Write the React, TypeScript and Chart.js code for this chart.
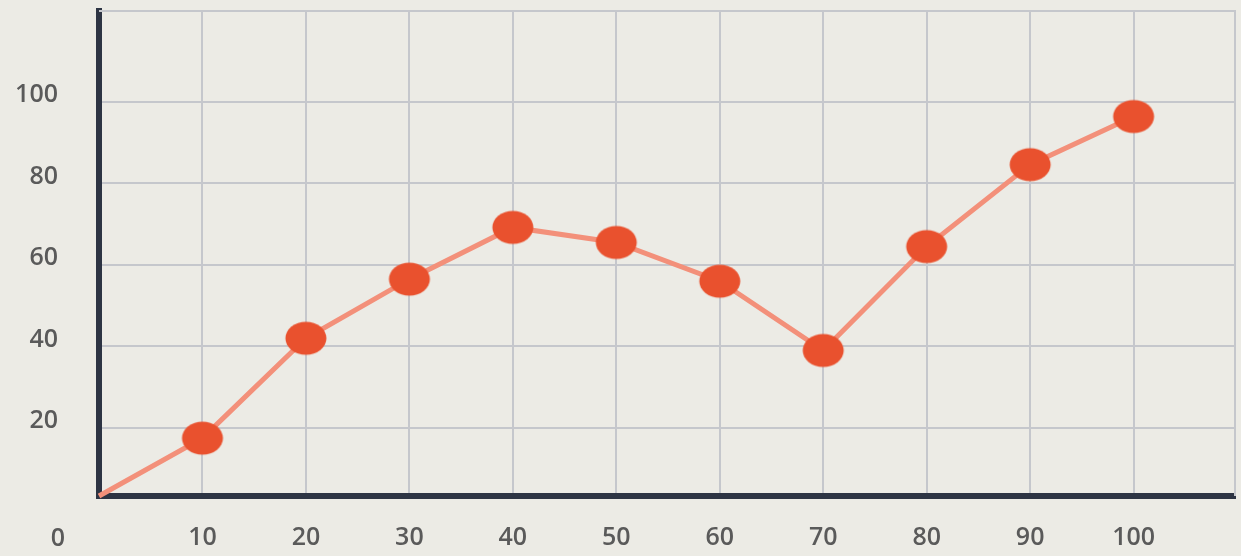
import React, { useEffect, useRef } from "react";
import { Chart, registerables } from "chart.js";

Chart.register(...registerables);

const xValues = [0, 10, 20, 30, 40, 50, 60, 70, 80, 90, 100];
const yValues = [3.3, 17.5, 42, 56.5, 69.2, 65.5, 56, 39, 64.5, 84.6, 96.4];
const xTicks = [10, 20, 30, 40, 50, 60, 70, 80, 90, 100];
const yTicks = [20, 40, 60, 80, 100];
const originLabel = "0";

const BG = "#ecebe5";
const GRID = "#c5c7cc";
const AXIS = "#2d3443";
const TEXT = "#5a5a5a";
const POINT = "#e9512e";
const LINE = "#f3907a";
const FONT = "'Open Sans', sans-serif";
const FONT_SIZE = 25;
const FONT_WEIGHT = 600;

function makeDot(): HTMLCanvasElement {
  const c = document.createElement("canvas");
  c.width = 44;
  c.height = 36;
  const g = c.getContext("2d")!;
  g.fillStyle = POINT;
  g.beginPath();
  g.ellipse(22, 18, 20.5, 16.5, 0, 0, Math.PI * 2);
  g.fill();
  return c;
}

const frameAndOrigin = {
  id: "frameAndOrigin",
  beforeDatasetsDraw(chart: any) {
    const { ctx, chartArea } = chart;
    ctx.save();
    ctx.strokeStyle = GRID;
    ctx.lineWidth = 2;
    ctx.beginPath();
    ctx.moveTo(chartArea.left, chartArea.top);
    ctx.lineTo(chartArea.right, chartArea.top);
    ctx.lineTo(chartArea.right, chartArea.bottom);
    ctx.stroke();
    ctx.restore();
  },
  afterDraw(chart: any) {
    const { ctx, chartArea } = chart;
    ctx.save();
    ctx.fillStyle = TEXT;
    ctx.font = `${FONT_WEIGHT} ${FONT_SIZE}px ${FONT}`;
    ctx.textAlign = "center";
    ctx.textBaseline = "middle";
    ctx.fillText(originLabel, chartArea.left - 41, 539);
    ctx.restore();
  },
};

export default function App() {
  const ref = useRef<HTMLCanvasElement>(null);

  useEffect(() => {
    document.body.style.margin = "0";
    document.body.style.background = BG;
    const dot = makeDot();
    const chart = new Chart(ref.current!, {
      type: "line",
      data: {
        datasets: [
          {
            data: xValues.map((x, i) => ({ x, y: yValues[i] })),
            borderColor: LINE,
            borderWidth: 5,
            pointStyle: dot as any,
            pointRadius: xValues.map((_, i) => (i === 0 ? 0 : 18)),
            tension: 0,
            clip: false as any,
          },
        ],
      },
      options: {
        animation: false,
        responsive: true,
        maintainAspectRatio: false,
        layout: { autoPadding: false, padding: { top: 11, right: 6, left: 0, bottom: 0 } },
        plugins: { legend: { display: false }, tooltip: { enabled: false } },
        scales: {
          x: {
            type: "linear",
            min: 0,
            max: 109.8,
            afterBuildTicks: (s: any) => {
              s.ticks = xTicks.map((v) => ({ value: v }));
            },
            afterFit: (s: any) => {
              s.height = 60;
              s.paddingLeft = 0;
              s.paddingRight = 0;
            },
            grid: { color: GRID, lineWidth: 2, drawTicks: false },
            border: { color: AXIS, width: 6 },
            ticks: {
              color: TEXT,
              font: { family: FONT, size: FONT_SIZE, weight: FONT_WEIGHT as any },
              padding: 27,
              maxRotation: 0,
              autoSkip: false,
            },
          },
          y: {
            type: "linear",
            min: 3.3,
            max: 122.3,
            afterBuildTicks: (s: any) => {
              s.ticks = yTicks.map((v) => ({ value: v }));
            },
            afterFit: (s: any) => {
              s.width = 99;
              s.paddingTop = 0;
              s.paddingBottom = 0;
            },
            grid: { color: GRID, lineWidth: 2, drawTicks: false },
            border: { color: AXIS, width: 6 },
            ticks: {
              color: TEXT,
              font: { family: FONT, size: FONT_SIZE, weight: FONT_WEIGHT as any },
              padding: 41,
              labelOffset: -7,
              autoSkip: false,
            },
          },
        },
      },
      plugins: [frameAndOrigin],
    });
    return () => chart.destroy();
  }, []);

  return (
    <div style={{ width: 1241, height: 556, position: "relative", background: BG }}>
      <canvas ref={ref} />
    </div>
  );
}
